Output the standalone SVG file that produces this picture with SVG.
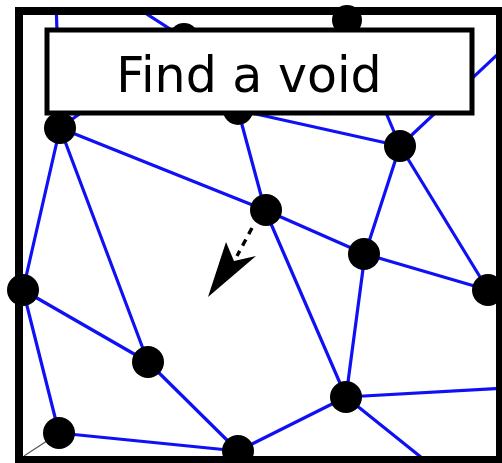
<svg xmlns="http://www.w3.org/2000/svg" width="502" height="463" viewBox="0 0 502 463">
<style>
.e{stroke:#1010f4;stroke-width:3.2;fill:none;stroke-linecap:round}
.n{fill:#000}
</style>
<defs>
<clipPath id="inside"><rect x="19" y="11" width="481" height="449"/></clipPath>
</defs>
<rect x="0" y="0" width="502" height="463" fill="#fff"/>
<g id="connectors" clip-path="url(#inside)">
<line class="e" x1="60" y1="128" x2="56" y2="0"/>
<line class="e" x1="60" y1="128" x2="184" y2="38"/>
<line class="e" x1="184" y1="38" x2="125" y2="0"/>
<line class="e" x1="60" y1="128" x2="23" y2="290"/>
<line class="e" x1="60" y1="128" x2="148" y2="362"/>
<line class="e" x1="60" y1="128" x2="265" y2="210"/>
<line class="e" x1="238" y1="110" x2="265" y2="210"/>
<line class="e" x1="238" y1="110" x2="400" y2="146"/>
<line class="e" x1="400" y1="146" x2="347" y2="20"/>
<line class="e" x1="400" y1="146" x2="515" y2="38"/>
<line class="e" x1="400" y1="146" x2="365" y2="254"/>
<line class="e" x1="400" y1="146" x2="488" y2="290"/>
<line class="e" x1="265" y1="210" x2="365" y2="254"/>
<line class="e" x1="265" y1="210" x2="346" y2="397"/>
<line class="e" x1="365" y1="254" x2="488" y2="290"/>
<line class="e" x1="365" y1="254" x2="346" y2="397"/>
<line class="e" x1="23" y1="290" x2="148" y2="362"/>
<line class="e" x1="23" y1="290" x2="59" y2="433"/>
<line class="e" x1="148" y1="362" x2="238" y2="451"/>
<line class="e" x1="59" y1="433" x2="238" y2="451"/>
<line class="e" x1="238" y1="451" x2="346" y2="397"/>
<line class="e" x1="346" y1="397" x2="505" y2="388"/>
<line class="e" x1="346" y1="397" x2="432" y2="466"/>
<line x1="59" y1="433" x2="24" y2="456" stroke="#555" stroke-width="1.2"/>
<line x1="252" y1="228" x2="237" y2="256" stroke="#000" stroke-width="3.4" stroke-dasharray="7,6"/>
<polygon points="208,297 226,242 234,261 256,256" fill="#000"/>
</g>
<g id="n1"><circle class="n" cx="60" cy="128" r="16"/></g>
<g id="n2"><circle class="n" cx="238" cy="110" r="15"/></g>
<g id="n3"><circle class="n" cx="184" cy="38" r="15"/></g>
<g id="n4"><circle class="n" cx="347" cy="20" r="15"/></g>
<g id="n5"><circle class="n" cx="400" cy="146" r="16"/></g>
<g id="n6"><circle class="n" cx="266" cy="210" r="16"/></g>
<g id="n7"><circle class="n" cx="364" cy="254" r="16"/></g>
<g id="n8"><circle class="n" cx="488" cy="290" r="16"/></g>
<g id="n9"><circle class="n" cx="23" cy="290" r="16"/></g>
<g id="n10"><circle class="n" cx="148" cy="362" r="16"/></g>
<g id="n11"><circle class="n" cx="346" cy="397" r="16"/></g>
<g id="n12"><circle class="n" cx="59" cy="433" r="16"/></g>
<g id="n13"><circle class="n" cx="238" cy="451" r="16"/></g>
<g id="frame"><rect x="19" y="11" width="481" height="449" fill="none" stroke="#000" stroke-width="8"/></g>
<g id="title">
<rect x="47" y="30" width="425" height="83" fill="#fff" stroke="#000" stroke-width="5"/>
<text x="249" y="92" font-family="DejaVu Sans, sans-serif" font-size="49" text-anchor="middle" fill="#000">Find a void</text>
</g>
</svg>
